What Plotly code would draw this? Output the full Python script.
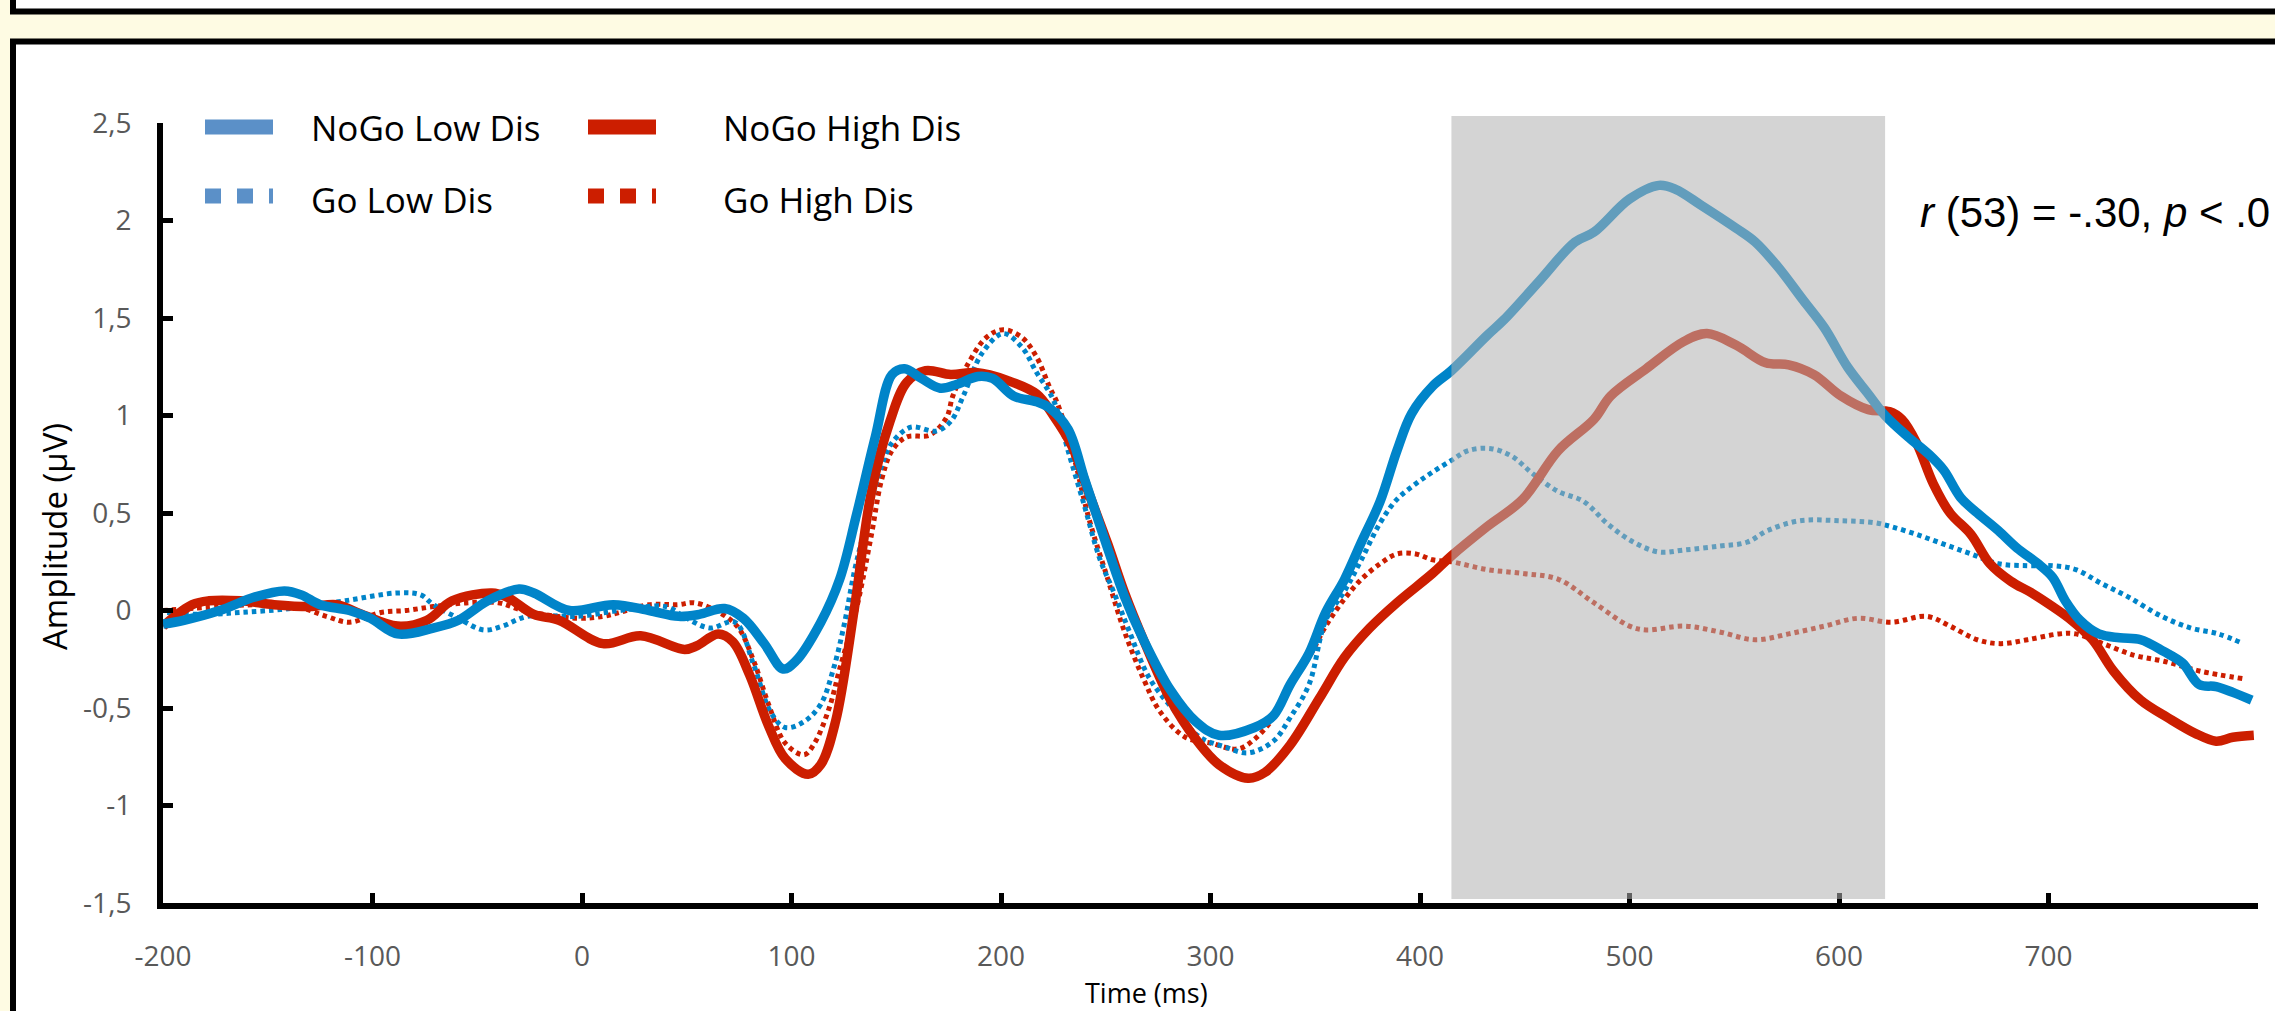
import plotly.graph_objects as go

W, H = 2275, 1011

# ---------------- data ----------------
nogo_low_t = [-200, -190, -173, -156, -142, -134, -125, -111, -101, -88, -71, -59, -45, -30, -23, -6, 15, 32,
              46, 56, 68, 77, 87, 96, 102, 114, 123, 131, 140, 148, 154, 162, 171, 179, 189, 196, 206, 217,
              223, 232, 240, 249, 259, 268, 281, 293, 304, 321, 330, 338, 347, 355, 364, 372, 381, 389, 396,
              406, 415, 432, 440, 457, 474, 483, 500, 514, 522, 534, 551, 560, 571, 583, 593, 604, 614, 622,
              633, 643, 650, 658, 666, 676, 685, 695, 702, 708, 715, 724, 734, 744, 755, 764, 772, 780, 788, 797]
nogo_low_v = [-0.07, -0.05, 0.00, 0.07, 0.10, 0.08, 0.03, 0.00, -0.04, -0.12, -0.09, -0.05, 0.05, 0.11, 0.09,
              0.00, 0.03, 0.00, -0.03, -0.02, 0.01, -0.04, -0.17, -0.30, -0.26, -0.06, 0.16, 0.49, 0.89, 1.21,
              1.24, 1.19, 1.14, 1.16, 1.20, 1.19, 1.10, 1.07, 1.04, 0.93, 0.67, 0.38, 0.07, -0.15, -0.41, -0.57,
              -0.64, -0.60, -0.54, -0.38, -0.22, -0.01, 0.16, 0.35, 0.56, 0.82, 1.01, 1.15, 1.23, 1.41, 1.49,
              1.69, 1.89, 1.94, 2.11, 2.18, 2.16, 2.08, 1.96, 1.89, 1.76, 1.59, 1.45, 1.25, 1.11, 1.00, 0.89,
              0.80, 0.72, 0.58, 0.50, 0.41, 0.32, 0.24, 0.17, 0.05, -0.05, -0.12, -0.14, -0.15, -0.21, -0.27,
              -0.38, -0.39, -0.42, -0.46]

nogo_high_t = [-200, -186, -178, -163, -147, -130, -117, -105, -88, -74, -62, -43, -36, -23, -11, 10, 28, 49,
               55, 65, 72, 80, 89, 97, 108, 114, 121, 130, 138, 147, 155, 164, 176, 188, 203, 217, 225, 234,
               242, 251, 259, 268, 281, 293, 304, 318, 326, 338, 352, 364, 376, 389, 406, 415, 432, 449, 466,
               483, 491, 508, 526, 537, 551, 565, 576, 588, 601, 614, 624, 630, 637, 645, 653, 663, 672, 682,
               692, 702, 711, 721, 731, 744, 757, 770, 780, 788, 798]
nogo_high_v = [-0.08, 0.03, 0.05, 0.05, 0.03, 0.02, 0.03, -0.02, -0.08, -0.05, 0.05, 0.09, 0.07, -0.02, -0.05,
               -0.17, -0.13, -0.20, -0.18, -0.12, -0.16, -0.33, -0.59, -0.76, -0.84, -0.79, -0.57, 0.01, 0.60,
               0.97, 1.17, 1.23, 1.21, 1.22, 1.18, 1.11, 1.00, 0.84, 0.60, 0.34, 0.09, -0.15, -0.46, -0.66,
               -0.79, -0.86, -0.83, -0.69, -0.45, -0.24, -0.09, 0.04, 0.19, 0.28, 0.43, 0.57, 0.82, 0.98, 1.10,
               1.24, 1.38, 1.42, 1.36, 1.27, 1.26, 1.21, 1.10, 1.03, 1.02, 0.98, 0.86, 0.65, 0.50, 0.39, 0.24,
               0.15, 0.09, 0.02, -0.05, -0.15, -0.31, -0.46, -0.55, -0.63, -0.67, -0.65, -0.64]

go_low_t = [-198, -181, -163, -139, -113, -88, -77, -71, -59, -47, -38, -26, -2, 18, 40, 50, 61, 73, 82, 90,
            97, 106, 114, 120, 125, 130, 135, 142, 148, 157, 169, 176, 182, 191, 201, 210, 217, 225, 232, 240,
            247, 254, 261, 271, 285, 295, 307, 318, 330, 338, 347, 355, 364, 372, 381, 389, 398, 406, 415, 423,
            434, 444, 454, 466, 478, 490, 502, 514, 526, 543, 556, 566, 581, 601, 617, 625, 637, 650, 663, 676,
            690, 702, 713, 725, 738, 754, 768, 781, 793]
go_low_v = [-0.01, -0.02, -0.01, 0.01, 0.05, 0.09, 0.08, 0.03, -0.04, -0.10, -0.08, -0.03, -0.03, 0.00, 0.02,
            -0.04, -0.09, -0.06, -0.28, -0.52, -0.60, -0.57, -0.48, -0.30, -0.08, 0.20, 0.42, 0.71, 0.86, 0.94,
            0.92, 0.97, 1.10, 1.32, 1.42, 1.35, 1.22, 1.08, 0.82, 0.53, 0.27, 0.09, -0.10, -0.35, -0.54, -0.65,
            -0.70, -0.73, -0.67, -0.55, -0.38, -0.05, 0.10, 0.26, 0.45, 0.57, 0.65, 0.71, 0.77, 0.82, 0.83, 0.79,
            0.70, 0.61, 0.56, 0.44, 0.35, 0.30, 0.31, 0.33, 0.35, 0.41, 0.46, 0.46, 0.45, 0.43, 0.39, 0.34, 0.29,
            0.24, 0.23, 0.23, 0.21, 0.14, 0.07, -0.03, -0.09, -0.12, -0.17]

go_high_t = [-200, -173, -156, -139, -122, -111, -96, -84, -71, -54, -40, -28, -2, 10, 18, 32, 46, 53, 62, 74,
             82, 89, 97, 106, 111, 118, 123, 131, 138, 143, 148, 155, 166, 174, 177, 184, 193, 201, 210, 217,
             223, 227, 234, 242, 251, 259, 268, 276, 288, 300, 313, 321, 330, 338, 347, 355, 364, 372, 381, 389,
             398, 406, 415, 432, 449, 466, 483, 500, 508, 526, 543, 560, 576, 593, 609, 625, 642, 653, 666, 677,
             690, 705, 713, 726, 741, 755, 772, 793]
go_high_v = [0.00, 0.02, 0.03, 0.03, -0.03, -0.06, -0.01, 0.00, 0.02, 0.04, 0.04, 0.00, -0.04, -0.03, -0.01,
             0.03, 0.03, 0.04, 0.01, -0.08, -0.26, -0.48, -0.68, -0.74, -0.68, -0.50, -0.30, 0.01, 0.38, 0.67,
             0.82, 0.89, 0.90, 0.99, 1.10, 1.26, 1.40, 1.44, 1.40, 1.30, 1.15, 1.06, 0.82, 0.47, 0.16, -0.11,
             -0.35, -0.52, -0.65, -0.68, -0.71, -0.66, -0.55, -0.38, -0.24, -0.08, 0.06, 0.16, 0.24, 0.29, 0.29,
             0.26, 0.25, 0.21, 0.19, 0.16, 0.04, -0.08, -0.10, -0.08, -0.11, -0.15, -0.12, -0.08, -0.04, -0.06,
             -0.03, -0.08, -0.15, -0.17, -0.15, -0.12, -0.12, -0.17, -0.23, -0.26, -0.31, -0.35]

x_tickvals = [-200, -100, 0, 100, 200, 300, 400, 500, 600, 700, 800]
x_ticktext = ["-200", "-100", "0", "100", "200", "300", "400", "500", "600", "700", ""]
y_tickvals = [-1.5, -1, -0.5, 0, 0.5, 1, 1.5, 2, 2.5]
y_ticktext = ["-1,5", "-1", "-0,5", "0", "0,5", "1", "1,5", "2", "2,5"]
window_ms = [415, 622]

legend_names = ["NoGo Low Dis", "NoGo High Dis", "Go Low Dis", "Go High Dis"]

# ---------------- styling ----------------
BLUE = "rgb(0,132,201)"
RED = "rgb(204,30,0)"
LEG_BLUE = "rgb(91,144,200)"
LEG_RED = "rgb(204,30,0)"
CREAM = "#FEFBE3"
SANS = "Open Sans, Noto Sans, Arial, sans-serif"
ARIAL = "Liberation Sans, Arial, sans-serif"


def fx(px):
    return px / W


def fy(py):
    return 1 - py / H


fig = go.Figure()

DOT = "4.5px,4px"
fig.add_trace(go.Scatter(x=go_high_t, y=go_high_v, mode="lines", name="Go High Dis",
                         line=dict(color=RED, width=5, dash=DOT, shape="spline"), showlegend=False))
fig.add_trace(go.Scatter(x=go_low_t, y=go_low_v, mode="lines", name="Go Low Dis",
                         line=dict(color=BLUE, width=5, dash=DOT, shape="spline"), showlegend=False))
fig.add_trace(go.Scatter(x=nogo_high_t, y=nogo_high_v, mode="lines", name="NoGo High Dis",
                         line=dict(color=RED, width=9.5, shape="spline"), showlegend=False))
fig.add_trace(go.Scatter(x=nogo_low_t, y=nogo_low_v, mode="lines", name="NoGo Low Dis",
                         line=dict(color=BLUE, width=9.5, shape="spline"), showlegend=False))

shapes = []
# frames of the surrounding figure panels
shapes.append(dict(type="rect", xref="paper", yref="paper", x0=fx(13), x1=fx(2400), y0=fy(11.5), y1=fy(-30),
                   fillcolor="white", line=dict(color="black", width=6), layer="below"))
shapes.append(dict(type="rect", xref="paper", yref="paper", x0=fx(13), x1=fx(2400), y0=fy(1100), y1=fy(41.5),
                   fillcolor="white", line=dict(color="black", width=6), layer="below"))
# analysis window (semi-transparent grey over the curves)
shapes.append(dict(type="rect", xref="x", yref="paper", x0=window_ms[0], x1=window_ms[1],
                   y0=fy(899), y1=fy(116), fillcolor="rgba(177,177,177,0.553)",
                   line=dict(width=0), layer="above"))
# custom legend samples
leg_rows = [127, 196]
shapes.append(dict(type="line", xref="paper", yref="paper", x0=fx(205), x1=fx(273), y0=fy(leg_rows[0]),
                   y1=fy(leg_rows[0]), line=dict(color=LEG_BLUE, width=15)))
shapes.append(dict(type="line", xref="paper", yref="paper", x0=fx(205), x1=fx(273), y0=fy(leg_rows[1]),
                   y1=fy(leg_rows[1]), line=dict(color=LEG_BLUE, width=15, dash="16px,16px")))
shapes.append(dict(type="line", xref="paper", yref="paper", x0=fx(588), x1=fx(656), y0=fy(leg_rows[0]),
                   y1=fy(leg_rows[0]), line=dict(color=LEG_RED, width=15)))
shapes.append(dict(type="line", xref="paper", yref="paper", x0=fx(588), x1=fx(656), y0=fy(leg_rows[1]),
                   y1=fy(leg_rows[1]), line=dict(color=LEG_RED, width=15, dash="16px,16px")))

annotations = []
leg_pos = [(309, leg_rows[0] + 1), (721, leg_rows[0] + 1), (309, leg_rows[1] + 3), (721, leg_rows[1] + 3)]
for name, (lx, ly) in zip(legend_names, leg_pos):
    annotations.append(dict(text=name, xref="paper", yref="paper", x=fx(lx), y=fy(ly), xanchor="left",
                            yanchor="middle", showarrow=False, font=dict(family=SANS, size=35, color="black")))
annotations.append(dict(text="Time (ms)", xref="paper", yref="paper", x=fx(1146), y=fy(992), xanchor="center",
                        yanchor="middle", showarrow=False, font=dict(family=SANS, size=27, color="black")))
annotations.append(dict(text="Amplitude (µV)", xref="paper", yref="paper", x=fx(54), y=fy(537),
                        xanchor="center", yanchor="middle", textangle=-90, showarrow=False,
                        font=dict(family=SANS, size=33, color="black")))
annotations.append(dict(text="<i>r</i> (53) = -.30, <i>p</i> &lt; .0", xref="paper", yref="paper",
                        x=fx(2272), y=fy(212), xanchor="right", yanchor="middle", showarrow=False,
                        font=dict(family=ARIAL, size=42, color="black")))

axis_common = dict(showline=True, linecolor="black", linewidth=6, ticks="inside", ticklen=10, tickwidth=5,
                   tickcolor="black", showgrid=False, zeroline=False, automargin=False,
                   tickfont=dict(family=SANS, size=28, color="#595959"), fixedrange=True)

fig.update_layout(
    width=W, height=H,
    margin=dict(l=0, r=0, t=0, b=0, pad=0, autoexpand=False),
    paper_bgcolor=CREAM, plot_bgcolor="rgba(0,0,0,0)",
    showlegend=False,
    xaxis=dict(domain=[fx(163), fx(2258)], range=[-200, 800], tickmode="array", tickvals=x_tickvals,
               ticktext=x_ticktext, ticklabelstandoff=23, **axis_common),
    yaxis=dict(domain=[fy(903), fy(123)], range=[-1.5, 2.5], tickmode="array", tickvals=y_tickvals,
               ticktext=y_ticktext, ticklabelstandoff=20, **axis_common),
    shapes=shapes,
    annotations=annotations,
)

fig.write_html("out.html", config={"displayModeBar": False},
               post_script="document.body.style.margin='0px';document.body.style.overflow='hidden';")
